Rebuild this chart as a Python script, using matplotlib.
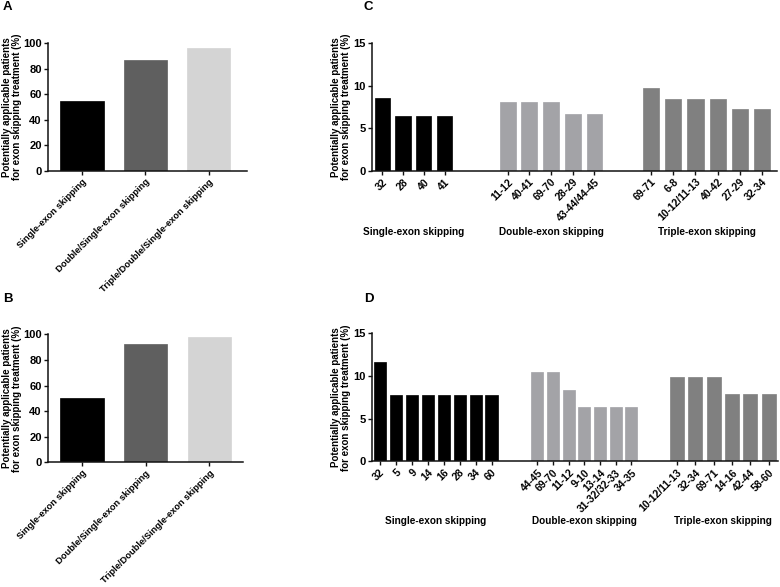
import matplotlib
matplotlib.use("Agg")
import matplotlib.pyplot as plt
import matplotlib.transforms as mtransforms

plt.rcParams['font.family'] = ['Liberation Sans', 'DejaVu Sans']
plt.rcParams['font.weight'] = 'bold'
plt.rcParams['axes.labelweight'] = 'bold'

# ---------------- data ----------------
ab_categories = ["Single-exon skipping", "Double/Single-exon skipping",
                 "Triple/Double/Single-exon skipping"]
a_values = [54.6, 87.2, 96.3]
b_values = [50.0, 92.2, 97.7]
ab_colors = ["#000000", "#5f5f5f", "#d4d4d4"]

group_names = ["Single-exon skipping", "Double-exon skipping", "Triple-exon skipping"]
group_colors = ["#000000", "#a3a3a7", "#808080"]

c_single_labels = ["32", "28", "40", "41"]
c_single_values = [8.6, 6.45, 6.45, 6.45]
c_double_labels = ["11-12", "40-41", "69-70", "28-29", "43-44/44-45"]
c_double_values = [8.05, 8.05, 8.05, 6.7, 6.7]
c_triple_labels = ["69-71", "6-8", "10-12/11-13", "40-42", "27-29", "32-34"]
c_triple_values = [9.7, 8.5, 8.5, 8.5, 7.3, 7.3]

d_single_labels = ["32", "5", "9", "14", "16", "28", "34", "60"]
d_single_values = [11.6, 7.75, 7.75, 7.75, 7.75, 7.75, 7.75, 7.75]
d_double_labels = ["44-45", "69-70", "11-12", "9-10", "13-14", "31-32/32-33", "34-35"]
d_double_values = [10.47, 10.47, 8.4, 6.33, 6.33, 6.33, 6.33]
d_triple_labels = ["10-12/11-13", "32-34", "69-71", "14-16", "42-44", "58-60"]
d_triple_values = [9.84, 9.84, 9.84, 7.9, 7.9, 7.9]

YLABEL = "Potentially applicable patients\nfor exon skipping treatment (%)"

W, H = 780, 587
fig = plt.figure(figsize=(W / 100, H / 100), dpi=100)


def axes_px(left, top, right, bottom):
    return fig.add_axes([left / W, 1 - bottom / H, (right - left) / W, (bottom - top) / H])


def style(ax):
    for s in ("top", "right"):
        ax.spines[s].set_visible(False)
    for s in ("left", "bottom"):
        ax.spines[s].set_linewidth(1.1)
        ax.spines[s].set_color("#111111")
    ax.tick_params(axis="both", length=3, width=1.0, color="#111111", pad=1.5)
    ax.tick_params(axis="y", labelsize=8)


def panel_ab(ax, values, xlim_right):
    xs = list(range(len(ab_categories)))
    ax.bar(xs, values, width=0.68, color=ab_colors, edgecolor=ab_colors, linewidth=0.5)
    ax.set_xlim(-0.535, xlim_right)
    ax.set_ylim(0, 100)
    ax.set_yticks([0, 20, 40, 60, 80, 100])
    ax.set_xticks(xs)
    ax.set_xticklabels(ab_categories, rotation=45, ha="right", va="top",
                       rotation_mode="anchor", fontsize=6.7)
    ax.set_ylabel(YLABEL, fontsize=7, fontweight="bold", labelpad=1, linespacing=1.0)
    style(ax)


axA = axes_px(48, 43.3, 247, 171)
panel_ab(axA, a_values, 2.6)
axB = axes_px(48, 334.3, 243, 462.3)
panel_ab(axB, b_values, 2.53)


def panel_cd(ax, groups, starts, steps, widthfrac, xlim_right, label_y):
    ticks, labels = [], []
    centers = []
    for (glabels, gvalues), st, sp, col in zip(groups, starts, steps, group_colors):
        xs = [st + i * sp for i in range(len(gvalues))]
        ax.bar(xs, gvalues, width=widthfrac * sp, color=col, edgecolor=col, linewidth=0.5)
        ticks += xs
        labels += glabels
        centers.append((xs[0] + xs[-1]) / 2)
    ax.set_xlim(0, xlim_right)
    ax.set_ylim(0, 15)
    ax.set_yticks([0, 5, 10, 15])
    ax.set_xticks(ticks)
    ax.set_xticklabels(labels, rotation=45, ha="right", va="top",
                       rotation_mode="anchor", fontsize=7.5)
    ax.set_ylabel(YLABEL, fontsize=7, fontweight="bold", labelpad=2, linespacing=1.0)
    style(ax)
    trans = mtransforms.blended_transform_factory(ax.transData, ax.transAxes)
    for c, name in zip(centers, group_names):
        ax.text(c, label_y, name, transform=trans, ha="center", va="center",
                fontsize=7.2, fontweight="bold")


axC = axes_px(372, 43.3, 777, 170.7)
panel_cd(axC,
         [(c_single_labels, c_single_values), (c_double_labels, c_double_values),
          (c_triple_labels, c_triple_values)],
         [0.47, 6.25, 12.85], [0.96, 1.0, 1.026], 0.73, 18.66, -0.48)

axD = axes_px(372, 333.3, 778, 461.3)
panel_cd(axD,
         [(d_single_labels, d_single_values), (d_double_labels, d_double_values),
          (d_triple_labels, d_triple_values)],
         [0.48, 10.35, 19.08], [1.0, 0.98, 1.146], 0.76, 25.4, -0.47)

for letter, x, y in [("A", 3, 7.5), ("B", 3, 299), ("C", 364, 7.5), ("D", 364, 299)]:
    fig.text(x / W, 1 - y / H, letter, fontsize=9.5, fontweight="bold", ha="left", va="center")

fig.savefig("out.png", dpi=100)
